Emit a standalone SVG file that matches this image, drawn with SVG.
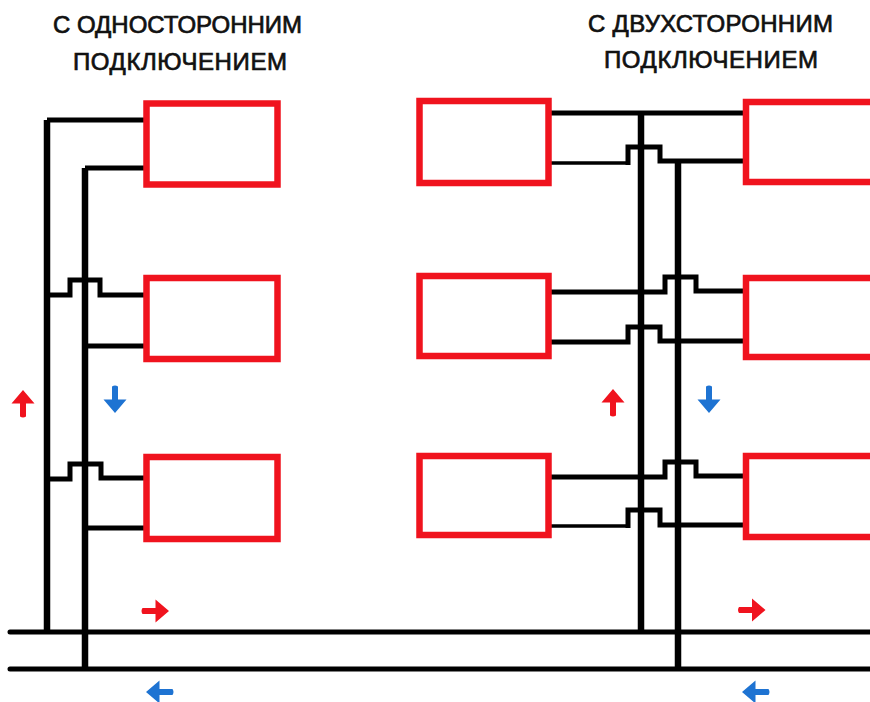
<svg xmlns="http://www.w3.org/2000/svg" width="870" height="702" viewBox="0 0 870 702">
<style>
.bg{fill:#fff}
.rad{fill:#fff;stroke:#f0131e;stroke-width:6.500}
.p{fill:none;stroke:#000;stroke-width:5;stroke-linejoin:miter}
.n{fill:none;stroke:#000;stroke-width:3.500}
.m{fill:none;stroke:#000;stroke-width:5;stroke-linecap:round}
.v{fill:none;stroke:#000;stroke-width:6.500}
.t{font-family:"Liberation Sans",Arial,sans-serif;font-size:24px;fill:#111;text-anchor:middle;stroke:#111;stroke-width:.7}
.hot{fill:#f0131e}.cold{fill:#1e73d2}
</style>
<defs>
<path id="up" d="M0-13.500L11.500 0H3V13Q0 15-3 13V0H-11.500Z"/>
</defs>
<rect class="bg" width="870" height="702"/>
<g id="connectors">
<path class="m" d="M10 632H870M10 669H870"/>
<path class="v" d="M47 632V120M85 669V168M641 632V113M678 669V162"/>
<path class="p" d="M47 120H144M85 168H144"/>
<path class="p" d="M47 295H70V280H100V295H144M85 346H144"/>
<path class="p" d="M47 479H70V464H101V478H144M85 528H144"/>
<path class="p" d="M551 113H743"/>
<path class="n" d="M551 163H628"/>
<path class="p" d="M628 165V147H660V161H743"/>
<path class="p" d="M551 292H665V277H696V291H743M551 342H628V327H660V341H743"/>
<path class="p" d="M551 477H665V462H696V476H743"/>
<path class="n" d="M551 526H628"/>
<path class="p" d="M628 528V510H660V525H743"/>
</g>
<g id="radiator-left-1"><rect class="rad" x="146.500" y="103.500" width="131" height="81"/></g>
<g id="radiator-left-2"><rect class="rad" x="146.500" y="278" width="131" height="81"/></g>
<g id="radiator-left-3"><rect class="rad" x="146.500" y="457" width="131" height="82"/></g>
<g id="radiator-mid-1"><rect class="rad" x="419.500" y="101" width="129" height="82"/></g>
<g id="radiator-mid-2"><rect class="rad" x="419.500" y="276" width="129" height="80"/></g>
<g id="radiator-mid-3"><rect class="rad" x="419.500" y="456" width="129" height="79"/></g>
<g id="radiator-right-1"><rect class="rad" x="746" y="102" width="140" height="80"/></g>
<g id="radiator-right-2"><rect class="rad" x="746" y="278" width="140" height="79"/></g>
<g id="radiator-right-3"><rect class="rad" x="746" y="456" width="140" height="81"/></g>
<g id="arrows">
<use href="#up" class="hot" transform="translate(23 403.500)"/>
<use href="#up" class="cold" transform="translate(115 399.500) rotate(180)"/>
<use href="#up" class="hot" transform="translate(613 402.500)"/>
<use href="#up" class="cold" transform="translate(709 399.500) rotate(180)"/>
<use href="#up" class="hot" transform="translate(155.500 611) rotate(90)"/>
<use href="#up" class="cold" transform="translate(159.500 692) rotate(-90)"/>
<use href="#up" class="hot" transform="translate(752 610) rotate(90)"/>
<use href="#up" class="cold" transform="translate(755.500 692) rotate(-90)"/>
</g>
<g id="labels">
<text class="t" x="177.500" y="33" textLength="249">С ОДНОСТОРОННИМ</text>
<text class="t" x="180" y="70" textLength="214">ПОДКЛЮЧЕНИЕМ</text>
<text class="t" x="710.500" y="32" textLength="245">С ДВУХСТОРОННИМ</text>
<text class="t" x="711" y="68" textLength="214">ПОДКЛЮЧЕНИЕМ</text>
</g>
</svg>
